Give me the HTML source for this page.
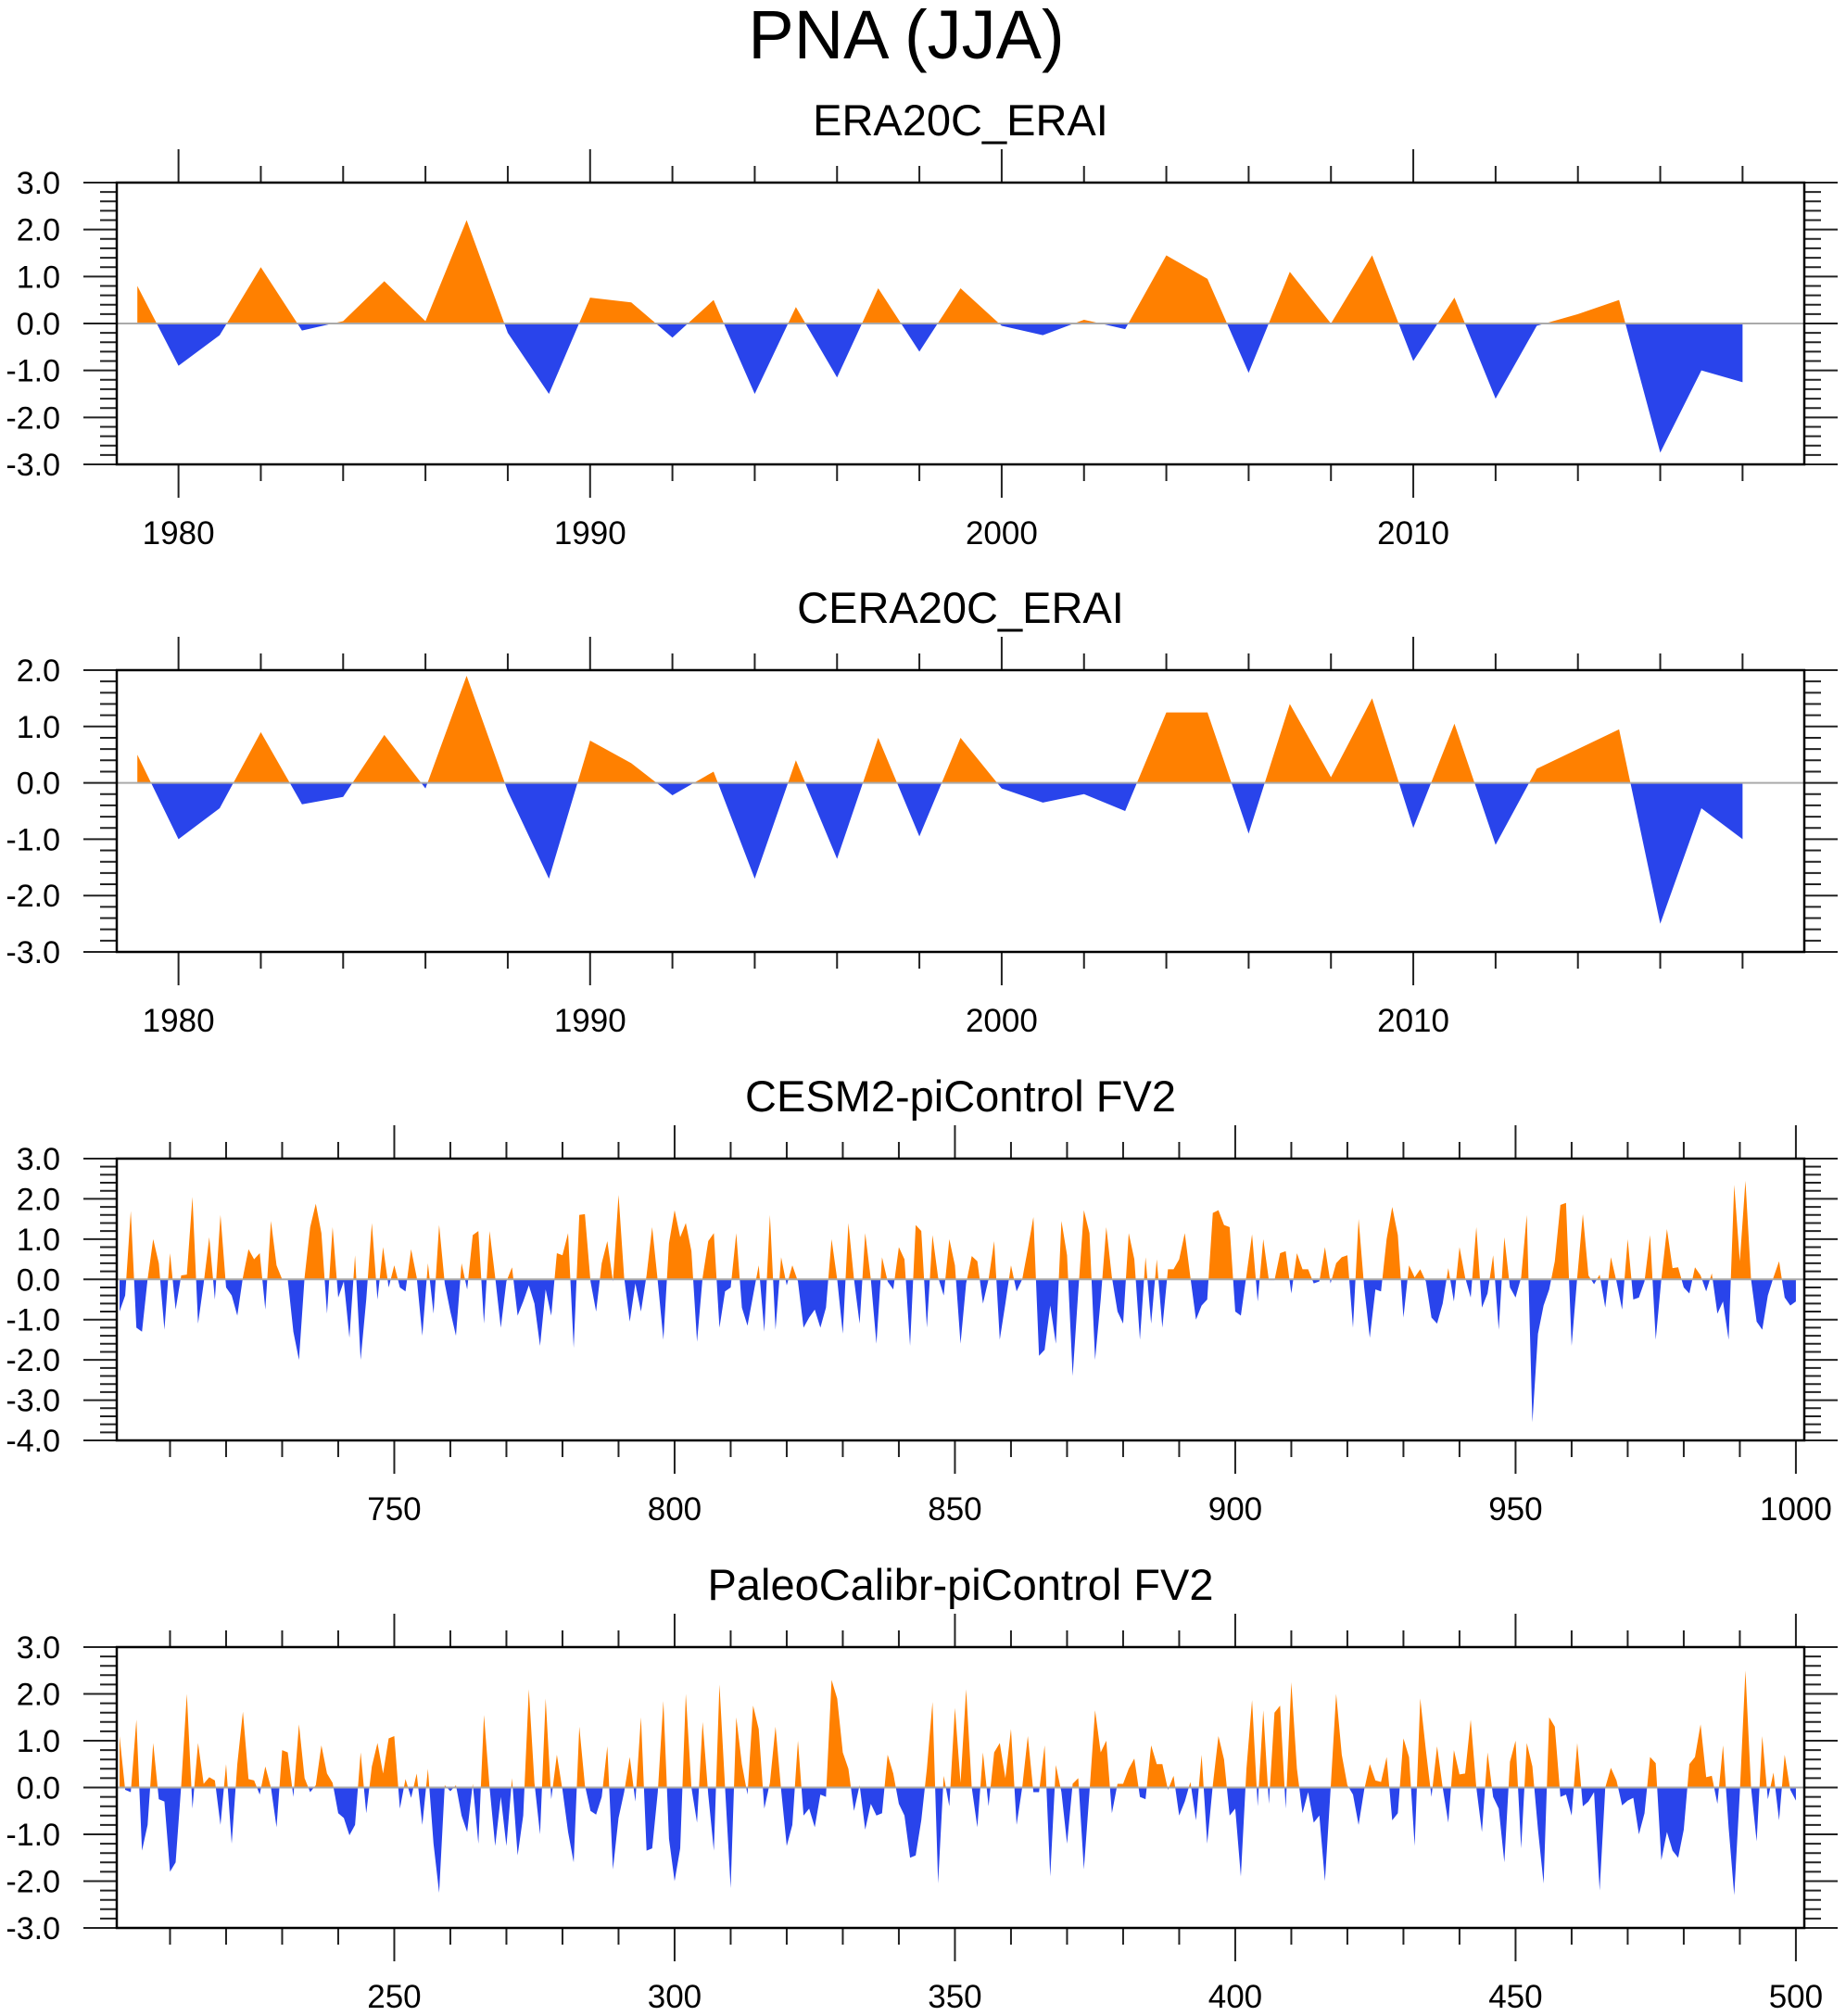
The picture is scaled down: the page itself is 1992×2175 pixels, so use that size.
<!DOCTYPE html>
<html>
<head>
<meta charset="utf-8">
<style>
  html,body{margin:0;padding:0;background:#fff;}
  svg{display:block;}
  text{font-family:"Liberation Sans", Arial, sans-serif;fill:#000;}
</style>
</head>
<body>
<svg id="fig" width="1992" height="2175" viewBox="0 0 1992 2175" xmlns="http://www.w3.org/2000/svg">
  <rect x="0" y="0" width="1992" height="2175" fill="#fff"/>
  <text x="978" y="63" font-size="74" text-anchor="middle">PNA (JJA)</text>
</svg>
<script>
// ---------- data ----------
const p1Start = 1979;
const p1Values = [0.8,-0.9,-0.25,1.2,-0.15,0.05,0.9,0.05,2.2,-0.2,-1.5,0.55,0.45,-0.3,0.5,-1.5,0.35,-1.15,0.75,-0.6,0.75,-0.05,-0.25,0.08,-0.12,1.45,0.95,-1.05,1.1,0.0,1.45,-0.8,0.55,-1.6,-0.05,0.2,0.5,-2.75,-1.0,-1.25];
const p2Start = 1979;
const p2Values = [0.5,-1.0,-0.45,0.9,-0.38,-0.25,0.85,-0.1,1.9,-0.15,-1.7,0.75,0.35,-0.22,0.2,-1.7,0.4,-1.35,0.8,-0.95,0.8,-0.1,-0.35,-0.2,-0.5,1.25,1.25,-0.9,1.4,0.1,1.5,-0.8,1.05,-1.1,0.25,0.6,0.95,-2.5,-0.45,-1.0];
const p3Start = 701;
const p3Values = [-0.8,-0.4,1.7,-1.2,-1.3,0,1.0,0.4,-1.25,0.65,
-0.75,0.1,0.12,2.05,-1.1,-0.1,1.05,-0.5,1.6,-0.2,
-0.4,-0.9,0.05,0.75,0.5,0.65,-0.75,1.45,0.35,0,
0,-1.3,-2.0,0.05,1.3,1.88,1.15,-0.85,1.3,-0.45,
-0.05,-1.45,0.6,-2.0,-0.5,1.4,-0.5,0.8,-0.2,0.35,
-0.2,-0.3,0.75,0.05,-1.4,0.4,-0.85,1.35,-0.1,-0.8,
-1.4,0.4,-0.25,1.1,1.2,-1.1,1.2,0.05,-1.2,-0.05,
0.3,-0.9,-0.55,-0.15,-0.6,-1.65,-0.25,-0.9,0.65,0.6,
1.15,-1.7,1.6,1.62,-0.05,-0.8,0.4,0.95,-0.05,2.1,
0.05,-1.05,-0.1,-0.8,0.1,1.3,-0.05,-1.5,0.9,1.72,
1.05,1.4,0.7,-1.55,0.05,0.95,1.15,-1.2,-0.3,-0.2,
1.15,-0.7,-1.15,-0.4,0.35,-1.3,1.6,-1.25,0.55,-0.15,
0.35,-0.05,-1.2,-0.95,-0.75,-1.2,-0.7,1.0,0,-1.35,
1.4,0,-1.1,1.15,0,-1.6,0.55,-0.05,-0.25,0.8,
0.5,-1.65,1.35,1.2,-1.2,1.1,0.05,-0.4,1.0,0.35,
-1.6,-0.1,0.58,0.45,-0.6,0,0.95,-1.5,-0.6,0.35,
-0.3,0,0.75,1.55,-1.9,-1.75,-0.65,-1.6,1.45,0.6,
-2.4,-0.3,1.72,1.15,-2.0,-0.5,1.3,0.05,-0.8,-1.1,
1.15,0.5,-1.5,0.55,-1.1,0.5,-1.2,0.25,0.25,0.5,
1.15,0.05,-1.0,-0.65,-0.5,1.65,1.72,1.35,1.3,-0.8,
-0.9,0.1,1.12,-0.55,1.0,-0.02,-0.02,0.65,0.7,-0.35,
0.65,0.25,0.25,-0.1,-0.05,0.8,-0.1,0.4,0.55,0.6,
-1.2,1.5,-0.2,-1.45,-0.25,-0.3,1.0,1.8,1.1,-0.95,
0.35,0.05,0.25,-0.05,-0.95,-1.1,-0.6,0.28,-0.55,0.8,
0.05,-0.45,1.3,-0.7,-0.35,0.6,-1.25,1.05,-0.2,-0.45,
0.05,1.6,-3.55,-1.35,-0.65,-0.25,0.45,1.85,1.9,-1.65,
0.05,1.62,0.1,-0.12,0.12,-0.7,0.55,-0.05,-0.75,1.0,
-0.5,-0.45,-0.05,1.1,-1.5,0,1.25,0.28,0.3,-0.2,
-0.35,0.3,0.1,-0.3,0.15,-0.85,-0.55,-1.5,2.35,0.45,
2.45,0,-1.05,-1.25,-0.4,0.05,0.45,-0.45,-0.65,-0.55];
const p4Start = 201;
const p4Values = [1.1,-0.05,-0.1,1.45,-1.35,-0.8,0.95,-0.25,-0.3,-1.8,
-1.6,0.05,2.0,-0.45,0.95,0.08,0.22,0.15,-0.8,0.5,
-1.2,0.5,1.62,0.18,0.15,-0.15,0.45,0,-0.85,0.8,
0.75,-0.2,1.35,0.2,-0.1,0.05,0.9,0.3,0.1,-0.55,
-0.65,-1.02,-0.8,0.75,-0.55,0.45,0.95,0.3,1.05,1.1,
-0.45,0.18,-0.22,0.3,-0.8,0.4,-1.2,-2.25,0.05,-0.08,
0.05,-0.6,-0.95,0.08,-1.2,1.55,0,-1.25,-0.2,-1.25,
0.2,-1.45,-0.6,2.1,0.1,-1.0,1.9,-0.25,0.7,-0.05,
-0.95,-1.6,1.3,0.05,-0.5,-0.58,-0.2,0.88,-1.75,-0.65,
-0.1,0.65,-0.3,1.5,-1.35,-1.3,-0.1,1.85,-1.1,-2.0,
-1.3,2.0,0,-0.75,1.4,-0.15,-1.35,2.2,0,-2.15,
1.5,0.5,-0.15,1.75,1.25,-0.45,0.1,1.3,-0.05,-1.25,
-0.8,1.0,-0.6,-0.45,-0.85,-0.15,-0.2,2.3,1.9,0.75,
0.4,-0.5,0.05,-0.9,-0.35,-0.6,-0.55,0.7,0.3,-0.35,
-0.6,-1.5,-1.45,-0.7,0.4,1.83,-2.05,0.25,-0.4,1.7,
0.1,2.1,0,-0.85,0.75,-0.4,0.75,0.95,0.2,1.25,
-0.8,0,1.1,-0.1,-0.1,0.9,-1.9,0.48,-0.1,-1.2,
0.08,0.2,-1.75,-0.1,1.65,0.75,1.0,-0.55,0.08,0.08,
0.4,0.62,-0.2,-0.25,0.9,0.5,0.5,-0.05,0.25,-0.6,
-0.3,0.12,-0.7,0.7,-1.2,0.05,1.1,0.6,-0.6,-0.45,
-1.9,0.4,1.87,-0.4,1.65,-0.35,1.6,1.75,-0.45,2.25,
0.4,-0.55,-0.1,-0.75,-0.6,-2.0,-0.05,2.0,0.7,0.05,
-0.15,-0.8,-0.05,0.5,0.15,0.12,0.65,-0.7,-0.55,1.05,
0.65,-1.25,1.9,0.8,-0.2,0.88,0,-0.75,0.8,0.28,
0.3,1.45,0,-0.95,0.75,-0.2,-0.45,-1.6,0.55,1.0,
-1.3,0.95,0.45,-0.9,-2.05,1.5,1.3,-0.2,-0.15,-0.6,
0.95,-0.4,-0.3,-0.1,-2.2,0,0.42,0.15,-0.38,-0.28,
-0.22,-1.0,-0.55,0.65,0.52,-1.55,-0.95,-1.35,-1.5,-0.9,
0.5,0.65,1.35,0.22,0.25,-0.35,0.9,-0.85,-2.3,-0.1,
2.5,0,-1.15,1.1,-0.25,0.32,-0.7,0.7,-0.05,-0.28];

const panelTitles = ["ERA20C_ERAI","CERA20C_ERAI","CESM2-piControl FV2","PaleoCalibr-piControl FV2"];
const p1XTickLabels = [1980,1990,2000,2010];
const p2XTickLabels = [1980,1990,2000,2010];
const p3XTickLabels = [750,800,850,900,950,1000];
const p4XTickLabels = [250,300,350,400,450,500];
const p1YTickLabels = [-3,-2,-1,0,1,2,3];
const p2YTickLabels = [-3,-2,-1,0,1,2];
const p3YTickLabels = [-4,-3,-2,-1,0,1,2,3];
const p4YTickLabels = [-3,-2,-1,0,1,2,3];

// ---------- layout ----------
const NS = "http://www.w3.org/2000/svg";
const svg = document.getElementById('fig');
const BOX_L = 126, BOX_R = 1947;
const panels = [
  {top:197, bot:501, xmin:1978.5, xmax:2019.5, ymin:-3, ymax:3, start:p1Start, vals:p1Values, xt:p1XTickLabels, yt:p1YTickLabels, minorStep:2, minorFrom:1980, title:panelTitles[0], id:'era20c'},
  {top:723, bot:1027, xmin:1978.5, xmax:2019.5, ymin:-3, ymax:2, start:p2Start, vals:p2Values, xt:p2XTickLabels, yt:p2YTickLabels, minorStep:2, minorFrom:1980, title:panelTitles[1], id:'cera20c'},
  {top:1250, bot:1554, xmin:700.5, xmax:1001.5, ymin:-4, ymax:3, start:p3Start, vals:p3Values, xt:p3XTickLabels, yt:p3YTickLabels, minorStep:10, minorFrom:710, title:panelTitles[2], id:'cesm2'},
  {top:1777, bot:2080, xmin:200.5, xmax:501.5, ymin:-3, ymax:3, start:p4Start, vals:p4Values, xt:p4XTickLabels, yt:p4YTickLabels, minorStep:10, minorFrom:210, title:panelTitles[3], id:'paleocalibr'}
];

function mk(tag, attrs, parent){
  const e = document.createElementNS(NS, tag);
  for (const k in attrs) e.setAttribute(k, attrs[k]);
  (parent||svg).appendChild(e);
  return e;
}

panels.forEach((p, pi) => {
  const g = mk('g', {});
  
  
  const xs = v => BOX_L + (v - p.xmin) / (p.xmax - p.xmin) * (BOX_R - BOX_L);
  const ys = v => p.bot - (v - p.ymin) / (p.ymax - p.ymin) * (p.bot - p.top);
  const y0 = ys(0);

  const t = mk('text', {x:(BOX_L+BOX_R)/2, y:p.top-51, 'font-size':47, 'text-anchor':'middle'}, g);
  t.textContent = p.title;
  
  

  const cpA = mk('clipPath', {id:'ca'+pi}, g);
  mk('rect', {x:BOX_L, y:p.top, width:BOX_R-BOX_L, height:y0-p.top}, cpA);
  const cpB = mk('clipPath', {id:'cb'+pi}, g);
  mk('rect', {x:BOX_L, y:y0, width:BOX_R-BOX_L, height:p.bot-y0}, cpB);

  let d = 'M' + xs(p.start).toFixed(2) + ',' + y0.toFixed(2);
  p.vals.forEach((v, i) => { d += ' L' + xs(p.start + i).toFixed(2) + ',' + ys(v).toFixed(2); });
  d += ' L' + xs(p.start + p.vals.length - 1).toFixed(2) + ',' + y0.toFixed(2) + ' Z';

  const pos = mk('path', {d:d, fill:'#FF8000', 'clip-path':'url(#ca'+pi+')'}, g);
  
  
  const neg = mk('path', {d:d, fill:'#2944EB', 'clip-path':'url(#cb'+pi+')'}, g);
  
  

  const zl = mk('line', {x1:BOX_L, x2:BOX_R, y1:y0, y2:y0, stroke:'#aaaaaa', 'stroke-width':2}, g);
  
  

  const tk = {stroke:'#222', 'stroke-width':2};
  for (let v = p.ymin; v <= p.ymax + 1e-9; v += 0.2) {
    const vv = Math.round(v*10)/10;
    const isMaj = Math.abs(vv - Math.round(vv)) < 1e-6;
    const L = isMaj ? 36 : 18;
    const yy = ys(vv);
    mk('line', Object.assign({x1:BOX_L-L, x2:BOX_L, y1:yy, y2:yy}, tk), g);
    mk('line', Object.assign({x1:BOX_R, x2:BOX_R+L, y1:yy, y2:yy}, tk), g);
  }
  p.yt.forEach(v => {
    const lab = mk('text', {x:65, y:ys(v)+12, 'font-size':34, 'text-anchor':'end'}, g);
    lab.textContent = v.toFixed(1);
    
    
  });
  for (let v = p.minorFrom; v < p.xmax; v += p.minorStep) {
    const isMaj = p.xt.indexOf(v) >= 0;
    const L = isMaj ? 36 : 18;
    const xx = xs(v);
    mk('line', Object.assign({x1:xx, x2:xx, y1:p.top-L, y2:p.top}, tk), g);
    mk('line', Object.assign({x1:xx, x2:xx, y1:p.bot, y2:p.bot+L}, tk), g);
  }
  p.xt.forEach(v => {
    const lab = mk('text', {x:xs(v), y:p.bot+86, 'font-size':35, 'text-anchor':'middle'}, g);
    lab.textContent = String(v);
    
    
  });

  const fr = mk('rect', {x:BOX_L, y:p.top, width:BOX_R-BOX_L, height:p.bot-p.top, fill:'none', stroke:'#000', 'stroke-width':2.5}, g);
  
  
});
</script>
</body>
</html>
